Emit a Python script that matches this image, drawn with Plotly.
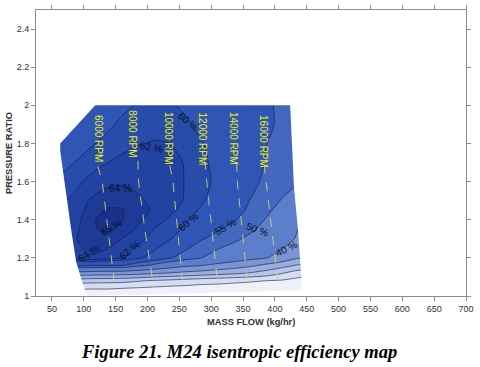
import plotly.graph_objects as go

# ---------------- data ----------------
mass_flow = [60, 85, 110, 135, 160, 185, 210, 235, 260, 285, 310, 335, 360, 385, 410, 435, 450]
pressure_ratio = [1.00, 1.04, 1.08, 1.12, 1.16, 1.20, 1.25, 1.30, 1.35, 1.40, 1.45, 1.50, 1.60, 1.70, 1.80, 1.90, 2.00]
efficiency = [
    [-5, -5, -5, -5, -5, -5, -5, -5, -5, -5, -5, -5, -5, -5, -5, -5, -5],
    [1, 1, 0.5, 0.5, 0, -1, -2, -3, -3.5, -4, -4, -4.5, -4.5, -5, -5, -5, -5],
    [15, 15, 14, 13.5, 13, 11, 9, 7.5, 6, 4, 3, 2, 1, 0, -1, -3, -4],
    [37, 37, 36, 35.5, 35, 33.5, 31.5, 29.5, 27.5, 26, 24, 22, 19.5, 16, 11, 5, 3],
    [56, 56, 55.5, 55, 55, 52, 48.5, 45, 42, 40, 37.5, 35, 32, 28, 24, 19, 17],
    [63, 63, 63.8, 63.2, 62.2, 60.5, 58.5, 55.5, 52.5, 50, 47.5, 45, 42.5, 40.5, 37, 31, 29],
    [62.5, 63.5, 64.4, 64.1, 63, 61.7, 60.5, 58.3, 55.6, 52.6, 50.3, 48.2, 45.8, 43.2, 40.6, 35.5, 34],
    [62.5, 63.9, 64.5, 64.6, 64, 62.6, 61.3, 60.2, 58.3, 55.4, 53.3, 51.3, 48.7, 45.5, 42.3, 39.5, 38],
    [62.7, 63.6, 64.8, 65.2, 64.8, 63.8, 62, 60.9, 59.6, 57.8, 55.6, 53.5, 51.3, 48.3, 44.5, 40.2, 38.5],
    [62.5, 63.5, 64.72, 65.5, 65.05, 64.3, 63.2, 61.6, 60.4, 58.7, 57, 55.4, 53.3, 49.8, 45.8, 42, 40.5],
    [62, 63, 64.6, 65.05, 65.05, 64.6, 63.8, 62.5, 61.2, 59.6, 58, 56.3, 54.5, 51.5, 48, 44.5, 42.5],
    [61.5, 62.5, 64.2, 64.8, 64.8, 64.3, 63.6, 62.9, 61.8, 60.3, 58.8, 57, 55, 52.5, 49.8, 47, 45.5],
    [60.5, 61.3, 62.6, 63.6, 63.8, 63.5, 63.2, 62.8, 61.9, 60.7, 59.5, 58, 56.2, 54.3, 52.5, 50.5, 49.5],
    [58.5, 60, 61, 61.9, 62.6, 63, 63.1, 62.8, 61.8, 60.5, 59.3, 57.9, 56.5, 54.9, 54, 53.3, 53],
    [57, 58.5, 59.7, 60.6, 61.3, 61.9, 62.1, 62.0, 61.3, 60.2, 59, 57.8, 56.5, 55.1, 54.3, 53.6, 53.2],
    [56.5, 57.3, 58.3, 59.4, 60.5, 61.2, 61.5, 61.2, 60.4, 59.2, 58.2, 57.3, 56.5, 55.5, 54.6, 54, 53.6],
    [56, 56.5, 57.5, 58.5, 59.4, 60.2, 60.5, 60.3, 59.5, 58.5, 57.6, 56.8, 56, 55.3, 54.7, 54, 53.5],
]

# map envelope (clockwise, starting bottom-left)
envelope_mass = [105, 97, 88, 81, 74, 67, 63, 63, 118, 424, 430, 436, 442, 443]
envelope_pr = [1.0, 1.08, 1.18, 1.33, 1.5, 1.66, 1.76, 1.80, 2.0, 2.0, 1.57, 1.355, 1.09, 1.03]

# contour levels drawn as lines and band boundaries
line_levels = [0, 10, 20, 30, 40, 50, 55, 60, 62, 64, 65]
band_colors = ['#eef1f9', '#d6ddf0', '#b9c6e8', '#9aaedf', '#7b95d3', '#5d7eca',
               '#4468be', '#2f56b4', '#284caa', '#2243a1', '#1d3a96', '#18318a']

# contour labels
eff_label_text = ["65 %", "64 %", "64 %", "62 %", "62 %", "60 %", "60 %", "55 %", "50 %", "40 %"]
eff_label_mass = [143, 157, 107, 207, 171, 264, 265, 323, 372, 419]
eff_label_pr = [1.36, 1.565, 1.224, 1.78, 1.24, 1.916, 1.39, 1.365, 1.35, 1.25]
eff_label_angle = [-30, 0, -35, 10, -40, 40, -40, -30, 20, -25]

# speed lines
rpm_names = ["6000 RPM", "8000 RPM", "10000 RPM", "12000 RPM", "14000 RPM", "16000 RPM"]
speed_mass = [[122, 129, 149], [185, 186, 196, 210], [235, 240, 256],
              [290, 293, 311], [340, 341, 358], [383, 390, 406]]
speed_pr = [[1.68, 1.6, 1.04], [1.71, 1.6, 1.345, 1.04], [1.685, 1.6, 1.04],
            [1.71, 1.6, 1.04], [1.70, 1.6, 1.04], [1.69, 1.5, 1.04]]
rpm_label_mass = [122, 176.5, 232, 286, 334, 381]
rpm_label_pr = [1.958, 1.984, 1.974, 1.974, 1.974, 1.958]

x_ticks = list(range(50, 701, 50))
y_ticks = [1, 1.2, 1.4, 1.6, 1.8, 2, 2.2, 2.4]
X_RANGE = [25, 700]
Y_RANGE = [1, 2.5]

# ---------------- figure ----------------
C_START, C_END, C_SIZE = 0, 66, 1
lo = C_START - C_SIZE / 2
hi = C_END + C_SIZE / 2
colorscale = [[0.0, band_colors[0]]]
for i, b in enumerate(line_levels):
    p = (b - lo) / (hi - lo)
    colorscale.append([p, band_colors[i]])
    colorscale.append([p, band_colors[i + 1]])
colorscale.append([1.0, band_colors[-1]])

SMOOTH = 0.7
fig = go.Figure()
fig.add_trace(go.Contour(
    x=mass_flow, y=pressure_ratio, z=efficiency,
    autocontour=False,
    contours=dict(start=C_START, end=C_END, size=C_SIZE, coloring='fill', showlines=False),
    colorscale=colorscale, showscale=False,
    line=dict(width=0, smoothing=SMOOTH), hoverinfo='skip'))

for lv in line_levels:
    fig.add_trace(go.Contour(
        x=mass_flow, y=pressure_ratio, z=efficiency,
        autocontour=False,
        contours=dict(start=lv, end=lv, size=1, coloring='none', showlines=True),
        line=dict(color='rgba(15,25,70,0.75)', width=0.8, smoothing=SMOOTH),
        showscale=False, hoverinfo='skip'))

# white mask outside the map envelope (keyhole polygon)
mx0, mx1, my0, my1 = 58, 452, 0.98, 2.02
mask_x = [mx0, mx1, mx1, mx0, mx0] + envelope_mass + [envelope_mass[0], mx0]
mask_y = [my0, my0, my1, my1, my0] + envelope_pr + [envelope_pr[0], my0]
fig.add_trace(go.Scatter(x=mask_x, y=mask_y, fill='toself', fillcolor='white',
                         mode='lines', line=dict(width=0, color='white'),
                         hoverinfo='skip', showlegend=False))

for sm, sp in zip(speed_mass, speed_pr):
    fig.add_trace(go.Scatter(x=sm, y=sp, mode='lines',
                             line=dict(color='rgba(205,220,120,0.85)', width=1, dash='dash'),
                             hoverinfo='skip', showlegend=False))

annotations = []
for t, m, p, a in zip(eff_label_text, eff_label_mass, eff_label_pr, eff_label_angle):
    annotations.append(dict(x=m, y=p, xref='x', yref='y', text=t, showarrow=False,
                            textangle=a, font=dict(family='Liberation Sans, Arial', size=10, color='#0c1228')))
for t, m, p in zip(rpm_names, rpm_label_mass, rpm_label_pr):
    annotations.append(dict(x=m, y=p, xref='x', yref='y', text=t, showarrow=False,
                            textangle=90, xanchor='center', yanchor='top',
                            font=dict(family='Liberation Sans, Arial', size=10, color='#eeee10')))

annotations.append(dict(x=0.5, y=0, xref='paper', yref='paper', yshift=-26,
                        text='<b>MASS FLOW (kg/hr)</b>', showarrow=False,
                        xanchor='center', yanchor='middle',
                        font=dict(family='Liberation Sans, Arial', size=9.3, color='#333333')))
annotations.append(dict(x=0, y=0.5, xref='paper', yref='paper', xshift=-27,
                        text='<b>PRESSURE RATIO</b>', showarrow=False, textangle=-90,
                        xanchor='center', yanchor='middle',
                        font=dict(family='Liberation Sans, Arial', size=9.3, color='#333333')))
annotations.append(dict(x=0.5, y=0, xref='paper', yref='paper', xshift=-12, yshift=-56,
                        text='<b><i>Figure 21. M24 isentropic efficiency map</i></b>', showarrow=False,
                        xanchor='center', yanchor='middle',
                        font=dict(family='Liberation Serif, Times New Roman', size=18.5, color='#000000')))

axis_common = dict(showline=True, linecolor='#8c8c8c', linewidth=1, mirror='ticks',
                   ticks='outside', ticklen=4, tickcolor='#8c8c8c', showgrid=False, zeroline=False,
                   automargin=False,
                   tickfont=dict(family='Liberation Sans, Arial', size=9, color='#333333'))
fig.update_layout(
    template='none',
    width=480, height=367,
    margin=dict(l=36, r=14, t=10, b=71, autoexpand=False),
    paper_bgcolor='white', plot_bgcolor='white',
    showlegend=False,
    xaxis=dict(range=X_RANGE, tickvals=x_ticks, **axis_common),
    yaxis=dict(range=Y_RANGE, tickvals=y_ticks, ticktext=[f"{v:g}" for v in y_ticks], **axis_common),
    annotations=annotations,
)

fig.write_html("out.html", config={'displayModeBar': False},
               post_script="document.body.style.margin='0';document.body.style.padding='0';")
